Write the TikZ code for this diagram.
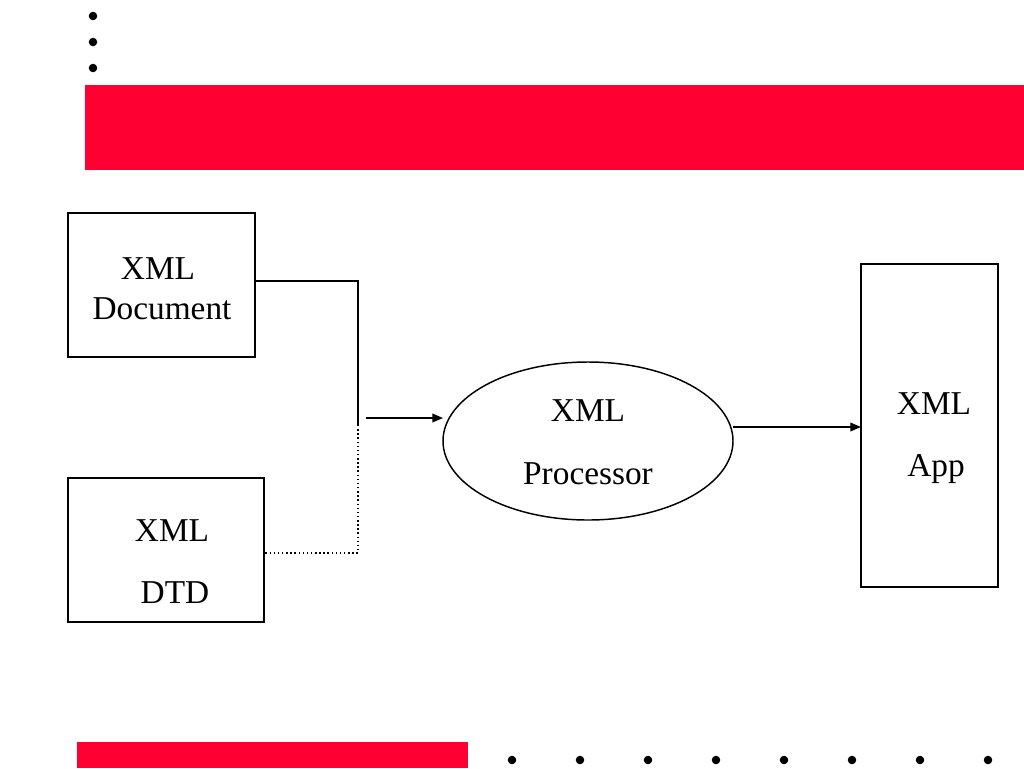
\documentclass[tikz,border=0pt]{standalone}
\usepackage{fontspec}
\setmainfont{Liberation Serif}
\usetikzlibrary{shapes.geometric,arrows.meta}
\definecolor{slidered}{HTML}{FF0033}

\begin{document}
\begin{tikzpicture}[x=0.75pt,y=-0.75pt,
    box/.style={draw, line width=1.1pt, inner sep=0pt, outer sep=0pt},
    lbl/.style={anchor=base, font=\fontsize{25}{30}\selectfont},
    arr/.style={-{Triangle[length=8pt,width=6.5pt]}, line width=1.1pt}]
        \useasboundingbox (0,0) rectangle (1024,768);
        \def \dotr {3.2pt}
        
        % slide decoration
        \foreach \y in {16,42,68}{
          \fill (93,\y) circle (\dotr);
        }
        \fill[slidered] (85,85) rectangle (1024,170);
        \fill[slidered] (77,742) rectangle (468,768);
        \foreach \i in {0,...,7}{
          \fill ({512+\i*68},760) circle (\dotr);
        }
        
        \node[box, minimum width=140.25pt, minimum height=108pt] at (161.5,285) (doc) {};
        \node[box, minimum width=147pt, minimum height=108pt] at (166,550) (dtd) {};
        \node[box, ellipse, minimum width=217.5pt, minimum height=118.5pt] at (588,441) (proc) {};
        \node[box, minimum width=102.75pt, minimum height=242.25pt] at (929.5,425.5) (app) {};
        
        \node[lbl] at (158,279) (docxml) {XML};
        \node[lbl] at (162,319) (doctxt) {Document};
        \node[lbl] at (172,541) (dtdxml) {XML};
        \node[lbl] at (175,603) (dtdtxt) {DTD};
        \node[lbl] at (588,421) (procxml) {XML};
        \node[lbl] at (588,484) (proctxt) {Processor};
        \node[lbl] at (934,414) (appxml) {XML};
        \node[lbl] at (936,476) (apptxt) {App};
        
        \coordinate (join) at (358,425);
        \coordinate (in) at (366,418);
        \coordinate (out) at (733,427);
        \draw[line width=1.1pt] ([yshift=3pt]doc.east) -| (join);
        \draw[dotted, line width=1.1pt] (join) |- ([yshift=-2.25pt]dtd.east);
        \draw[arr] (in) -- (in -| proc.west);
        \draw[arr] (out) -- (out -| app.west);
\end{tikzpicture}
\end{document}
